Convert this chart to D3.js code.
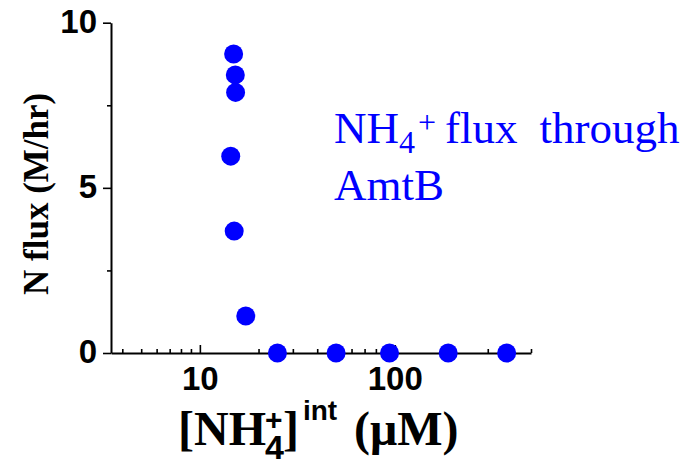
<!DOCTYPE html>
<html>
<head>
<meta charset="utf-8">
<script src="https://cdn.jsdelivr.net/npm/d3@7"></script>
<style>
  body { margin: 0; background: #fff; }
</style>
</head>
<body>
<svg id="chart" width="699" height="466"></svg>
<script>
// Internal ammonium concentration (µM) and N flux through AmtB (M/hr)
const concentration = [14.9, 15.2, 15.25, 14.4, 15.0, 17.2, 25, 50, 94, 188, 375];
const flux = [9.05, 8.42, 7.89, 5.96, 3.69, 1.12, 0, 0, 0, 0, 0];

const xDomain = [3.5, 500];
const yDomain = [0, 10];
const xMajorTicks = [10, 100];
const xMinorTicks = [4, 5, 6, 7, 8, 9, 20, 30, 40, 50, 60, 70, 80, 90, 200, 300, 400, 500];
const yMajorTicks = [0, 5, 10];
const yMinorTicks = [2.5, 7.5];

const BLUE = "#0000ff";
const SANS = "'Liberation Sans', Arial, sans-serif";
const SERIF = "'Liberation Serif', 'Times New Roman', serif";

const svg = d3.select("#chart");
svg.append("rect").attr("width", 699).attr("height", 466).attr("fill", "#fff");

const plot = { left: 111, right: 531, top: 22.7, bottom: 353 };

const x = d3.scaleLog().domain(xDomain).range([plot.left, plot.right]);
const y = d3.scaleLinear().domain(yDomain).range([plot.bottom, plot.top]);

function styleAxis(g, showDomain) {
  g.selectAll(".tick line").attr("stroke", "#000").attr("stroke-width", 1.6);
  g.select(".domain").attr("stroke", "#000").attr("stroke-width", 2)
    .attr("display", showDomain ? null : "none");
  g.selectAll(".tick text")
    .attr("fill", "#000")
    .style("font-family", SANS)
    .style("font-weight", "bold")
    .style("font-size", "33px");
}

// x axis: ticks point up into the plot
const gx = svg.append("g").attr("transform", `translate(0,${plot.bottom})`);
gx.append("g")
  .call(d3.axisBottom(x).tickValues(xMinorTicks).tickSize(-4).tickSizeOuter(0).tickFormat(""))
  .call(g => styleAxis(g, false));
gx.append("g")
  .call(d3.axisBottom(x).tickValues(xMajorTicks).tickSize(-8).tickSizeOuter(0)
    .tickPadding(14).tickFormat(d3.format("d")))
  .call(g => styleAxis(g, true));

// y axis: ticks point outward
const gy = svg.append("g").attr("transform", `translate(${plot.left},0)`);
gy.append("g")
  .call(d3.axisLeft(y).tickValues(yMinorTicks).tickSize(4).tickSizeOuter(0).tickFormat(""))
  .call(g => styleAxis(g, false));
gy.append("g")
  .call(d3.axisLeft(y).tickValues(yMajorTicks).tickSize(8).tickSizeOuter(0)
    .tickPadding(6).tickFormat(d3.format("d")))
  .call(g => styleAxis(g, true))
  .call(g => g.selectAll(".tick text").attr("dy", "0.3em"));

// data points
const points = concentration.map((c, i) => ({ c, f: flux[i] }));
svg.append("g")
  .selectAll("circle")
  .data(points)
  .join("circle")
  .attr("cx", d => x(d.c))
  .attr("cy", d => y(d.f))
  .attr("r", 9.5)
  .attr("fill", BLUE);

// y axis title
svg.append("text")
  .attr("transform", `translate(48,${(plot.top + plot.bottom) / 2 + 6}) rotate(-90)`)
  .attr("text-anchor", "middle")
  .style("font-family", SERIF)
  .style("font-weight", "bold")
  .style("font-size", "35px")
  .attr("fill", "#000")
  .text("N flux (M/hr)");

// x axis title: [NH+4]int (µM), built piece by piece
const xt = svg.append("g").attr("fill", "#000");
function piece(txt, px, py, family, size) {
  const t = xt.append("text")
    .attr("x", px).attr("y", py)
    .style("font-family", family)
    .style("font-weight", "bold")
    .style("font-size", size + "px")
    .text(txt);
  return px + t.node().getComputedTextLength();
}
const base = 445;
let pos = 178;
pos = piece("[NH", pos, base, SERIF, 48);
const plusEnd = piece("+", pos - 1, base - 15, SANS, 30);
const fourEnd = piece("4", pos - 1, base + 14, SANS, 34);
pos = piece("]", Math.max(plusEnd, fourEnd) - 1, base, SERIF, 48);
pos = piece("int", pos + 4, base - 25, SANS, 28);
piece("(\u03bcM)", pos + 17, base, SERIF, 48);

// annotation
const note = svg.append("text")
  .attr("x", 334).attr("y", 143)
  .attr("fill", BLUE)
  .style("font-family", SERIF)
  .style("font-size", "45px");
note.append("tspan").text("NH");
note.append("tspan").attr("dy", 10).style("font-size", "32px").text("4");
note.append("tspan").attr("dy", -20).attr("dx", 3).style("font-size", "32px").text("+");
note.append("tspan").attr("dy", 10).attr("dx", 9).text("flux");
note.append("tspan").attr("dx", 22).text("through");

svg.append("text")
  .attr("x", 334).attr("y", 200)
  .attr("fill", BLUE)
  .style("font-family", SERIF)
  .style("font-size", "45px")
  .text("AmtB");
</script>
</body>
</html>
